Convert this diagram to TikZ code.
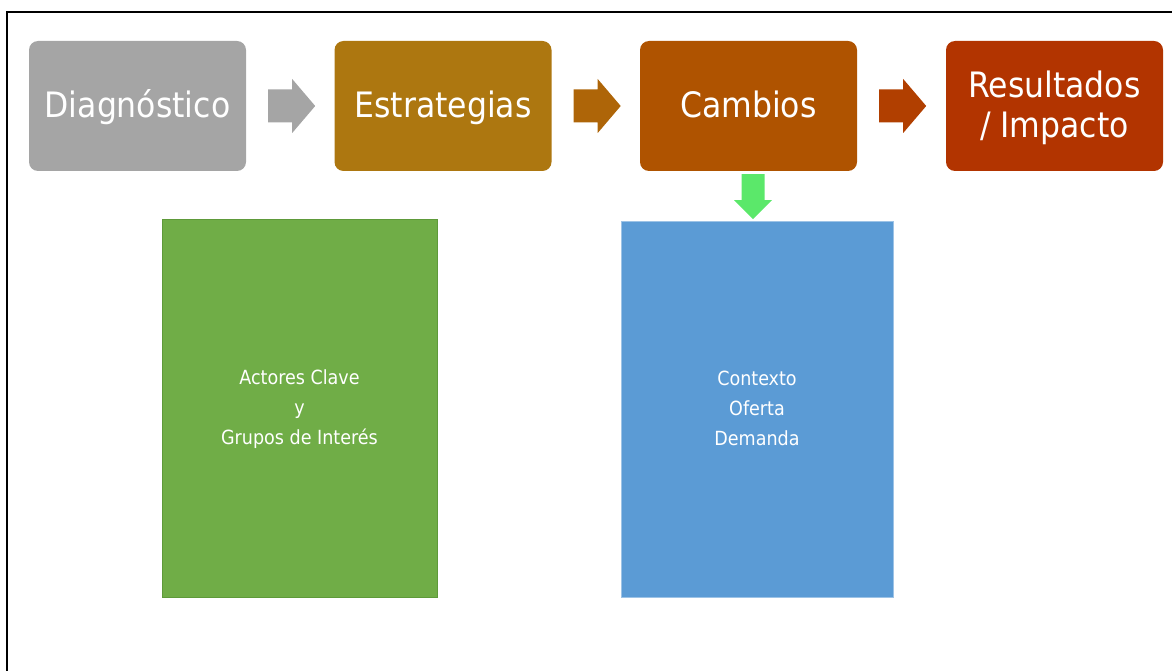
\documentclass[tikz,border=0pt]{standalone}
\usepackage{fontspec}
\setmainfont{DejaVu Sans Condensed}
\usetikzlibrary{calc}
\definecolor{cgray}{HTML}{A5A5A5}
\definecolor{cest}{HTML}{AD7710}
\definecolor{ccam}{HTML}{AF5300}
\definecolor{cres}{HTML}{B23400}
\definecolor{carr2}{HTML}{AE6508}
\definecolor{carr3}{HTML}{B13F00}
\definecolor{cgreen}{HTML}{70AD47}
\definecolor{cgreenb}{HTML}{5E9A3A}
\definecolor{cblue}{HTML}{5B9BD5}
\definecolor{cblueb}{HTML}{9DC3E6}
\definecolor{carrg}{HTML}{5BE86A}
\tikzset{
  topbox/.style={rectangle, rounded corners=9pt, minimum width=217pt, minimum height=130pt,
    inner sep=0pt, text=white, align=center, text height=30pt, text depth=6pt,
    font=\fontsize{35}{40}\selectfont},
  lowbox/.style={rectangle, inner sep=0pt, text=white, align=center,
    text height=76pt, text depth=4pt,
    font=\fontsize{19.5}{30}\selectfont},
}
\begin{document}
\begin{tikzpicture}[x=1pt,y=-1pt]
\useasboundingbox (0,0) rectangle (1172,671);
\draw[line width=1.6pt] (7,672) -- (7,12) -- (1173,12);

\node[topbox, fill=cgray] (d) at (137.5,106) {Diagnóstico};
\node[topbox, fill=cest] (e) at (443,106) {Estrategias};
\node[topbox, fill=ccam] (c) at (748.5,106) {Cambios};
\node[topbox, fill=cres, text height=70pt] (r) at (1054.5,106) {Resultados\\/ Impacto};

\node[lowbox, fill=cgreen, draw=cgreenb, line width=1pt, minimum width=275pt, minimum height=378pt] (g) at (299.5,408)
  {Actores Clave\\y\\Grupos de Interés};
\node[lowbox, fill=cblue, draw=cblueb, line width=0.8pt, minimum width=272pt, minimum height=376pt] (b) at (757,409)
  {Contexto\\Oferta\\Demanda};

% block arrows between top boxes
\fill[cgray] ($(d.east)+(22,0)$) ++(0,-16.5) -- ++(24,0) -- ++(0,-10.5) -- ++(23,27) -- ++(-23,27) -- ++(0,-10.5) -- ++(-24,0) -- cycle;
\fill[carr2] ($(e.east)+(22,0)$) ++(0,-16.5) -- ++(24,0) -- ++(0,-10.5) -- ++(23,27) -- ++(-23,27) -- ++(0,-10.5) -- ++(-24,0) -- cycle;
\fill[carr3] ($(c.east)+(22,0)$) ++(0,-16.5) -- ++(24,0) -- ++(0,-10.5) -- ++(23,27) -- ++(-23,27) -- ++(0,-10.5) -- ++(-24,0) -- cycle;

% down arrow
\fill[carrg] ($(c.south)+(4.5,3)$) ++(-11.5,0) -- ++(23,0) -- ++(0,26) -- ++(7.5,0) -- ++(-19,19) -- ++(-19,-19) -- ++(7.5,0) -- cycle;
\end{tikzpicture}
\end{document}
